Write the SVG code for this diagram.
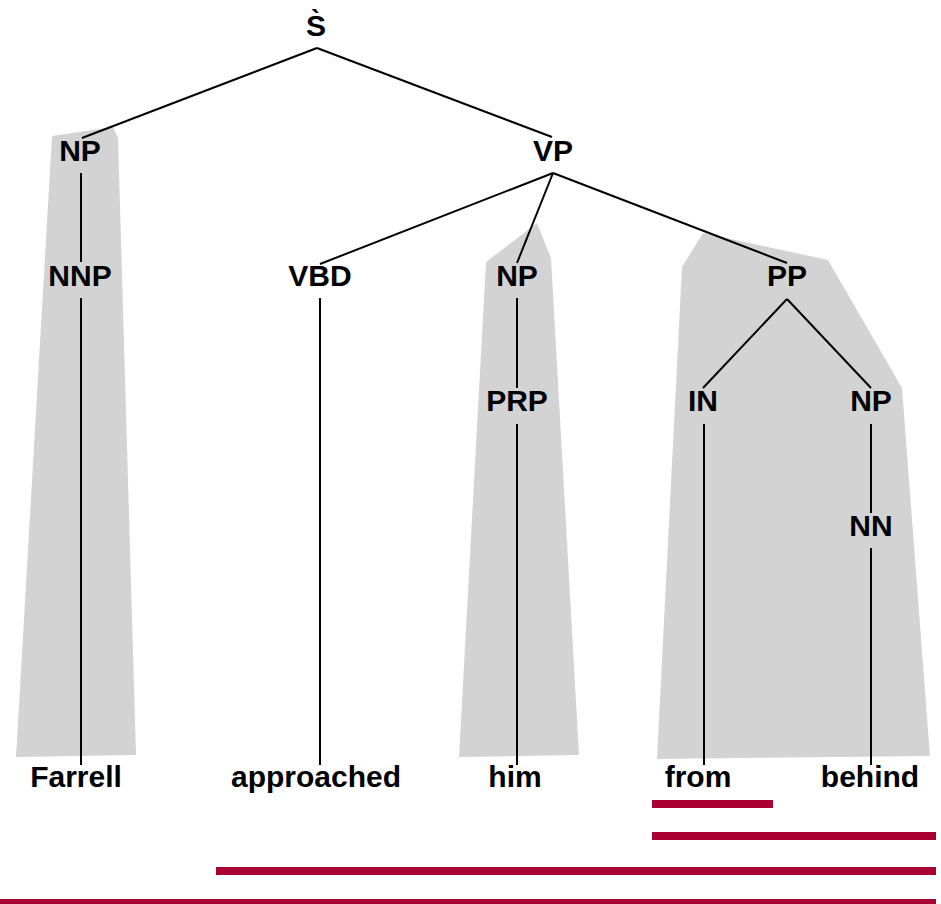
<svg xmlns="http://www.w3.org/2000/svg" width="941" height="904" viewBox="0 0 941 904">
  <style>
    .hull { fill: #d3d3d3; stroke: none; }
    .edge { stroke: #000; stroke-width: 2; fill: none; }
    .lbl { font-family: "Liberation Sans", Arial, sans-serif; font-weight: bold; font-size: 30px; fill: #000; text-anchor: middle; }
    .span { fill: #a80032; }
  </style>

  <!-- constituent hulls -->
  <g id="hulls">
    <polygon class="hull" points="52,136 113,127 118,138 136,755 16,757"/>
    <polygon class="hull" points="537,223 551,258 579,755 459,757 486,262"/>
    <polygon class="hull" points="703,233 828,260 902,388 930,756 657,759 682,267"/>
  </g>

  <!-- tree edges -->
  <g id="connectors">
    <line class="edge" x1="317" y1="48" x2="82" y2="138"/>
    <line class="edge" x1="317" y1="48" x2="552" y2="137"/>
    <line class="edge" x1="553" y1="173" x2="320" y2="264"/>
    <line class="edge" x1="553" y1="173" x2="517" y2="263"/>
    <line class="edge" x1="553" y1="173" x2="787" y2="263"/>
    <line class="edge" x1="81" y1="173" x2="81" y2="262"/>
    <line class="edge" x1="81" y1="298" x2="81" y2="765"/>
    <line class="edge" x1="320" y1="298" x2="320" y2="765"/>
    <line class="edge" x1="517" y1="298" x2="517" y2="388"/>
    <line class="edge" x1="517" y1="424" x2="517" y2="765"/>
    <line class="edge" x1="787" y1="299" x2="703" y2="388"/>
    <line class="edge" x1="787" y1="299" x2="871" y2="388"/>
    <line class="edge" x1="704" y1="424" x2="704" y2="765"/>
    <line class="edge" x1="871" y1="424" x2="871" y2="513"/>
    <line class="edge" x1="871" y1="548" x2="871" y2="765"/>
  </g>

  <!-- phrase and tag nodes -->
  <g id="n-S"><text class="lbl" x="316" y="36">S&#x300;</text></g>
  <g id="n-NP1"><text class="lbl" x="80" y="161">NP</text></g>
  <g id="n-VP"><text class="lbl" x="553" y="161">VP</text></g>
  <g id="n-NNP"><text class="lbl" x="80" y="286">NNP</text></g>
  <g id="n-VBD"><text class="lbl" x="320" y="286">VBD</text></g>
  <g id="n-NP2"><text class="lbl" x="517" y="286">NP</text></g>
  <g id="n-PP"><text class="lbl" x="787" y="286">PP</text></g>
  <g id="n-PRP"><text class="lbl" x="517" y="411">PRP</text></g>
  <g id="n-IN"><text class="lbl" x="703" y="411">IN</text></g>
  <g id="n-NP3"><text class="lbl" x="871" y="411">NP</text></g>
  <g id="n-NN"><text class="lbl" x="871" y="536">NN</text></g>

  <!-- words -->
  <g id="w-Farrell"><text class="lbl" x="76" y="787">Farrell</text></g>
  <g id="w-approached"><text class="lbl" x="316" y="787">approached</text></g>
  <g id="w-him"><text class="lbl" x="515" y="787">him</text></g>
  <g id="w-from"><text class="lbl" x="698" y="787">from</text></g>
  <g id="w-behind"><text class="lbl" x="870" y="787">behind</text></g>

  <!-- span bars -->
  <g id="spans">
    <rect class="span" x="652" y="800" width="121" height="8"/>
    <rect class="span" x="652" y="832" width="284" height="8"/>
    <rect class="span" x="216" y="867" width="720" height="8"/>
    <rect class="span" x="0" y="899" width="936" height="8"/>
  </g>
</svg>
